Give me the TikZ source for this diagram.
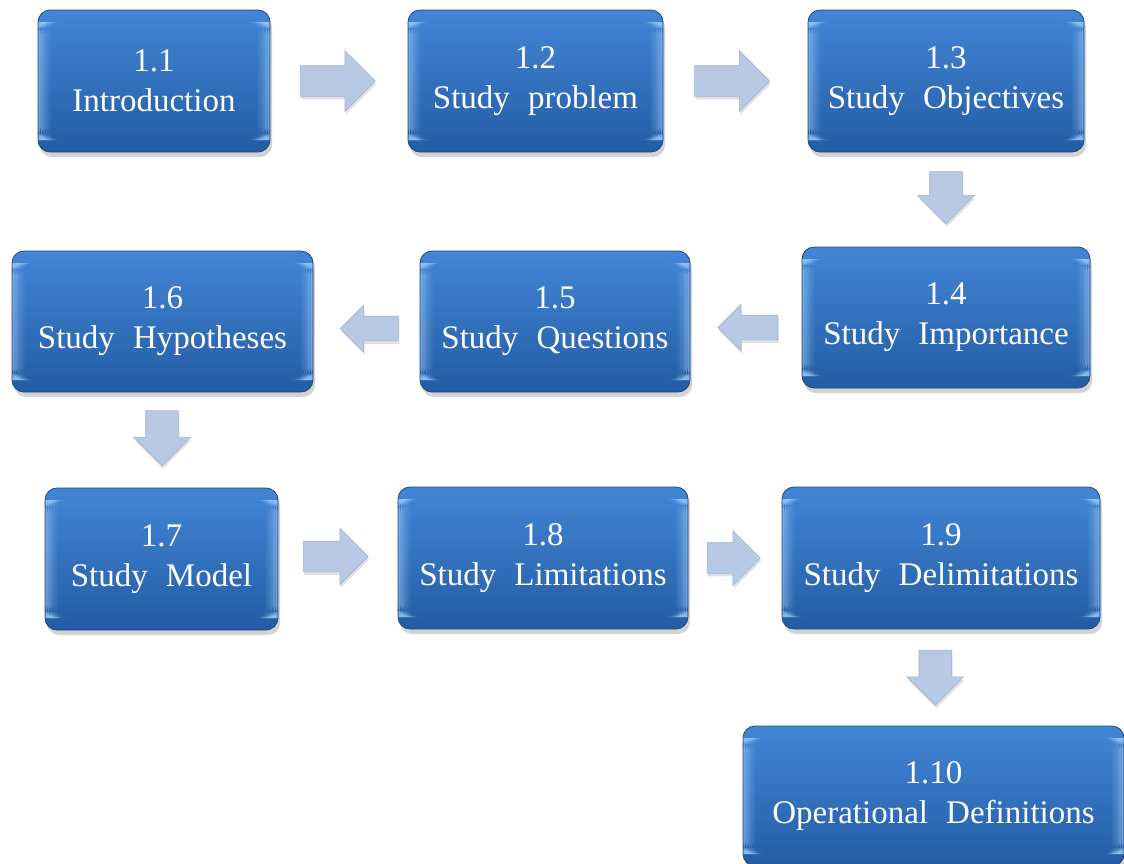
\documentclass[tikz,border=0pt]{standalone}
\usepackage{fontspec}
\setmainfont{Liberation Serif}[WordSpace=2.2]
\usetikzlibrary{shapes.arrows,shadows,calc}

\definecolor{boxtop}{RGB}{66,134,214}
\definecolor{boxbot}{RGB}{36,92,164}
\definecolor{boxline}{RGB}{32,72,128}
\definecolor{boxedge}{RGB}{160,205,250}
\definecolor{arrfill}{RGB}{184,201,229}
\definecolor{arrline}{RGB}{160,180,212}

\tikzset{
  box/.style={
    rounded corners=12pt, draw=boxline, line width=0.8pt,
    top color=boxtop, bottom color=boxbot,
    text=white, align=center, inner sep=0pt,
    font=\fontsize{33}{40}\selectfont,
    drop shadow={shadow xshift=2pt, shadow yshift=-5pt, opacity=0.35},
    path picture={
      % soft bevel highlights along the left and right edges
      \foreach \k/\o in {0/0.55,1/0.4,2/0.28,3/0.17,4/0.08}{
        \fill[boxedge, opacity=\o]
          ([xshift=\k*2.5pt,yshift=12pt]path picture bounding box.south west) rectangle
          ([xshift=\k*2.5pt+2.5pt,yshift=-12pt]path picture bounding box.north west);
        \fill[boxedge, opacity=\o]
          ([xshift=-\k*2.5pt,yshift=12pt]path picture bounding box.south east) rectangle
          ([xshift=-\k*2.5pt-2.5pt,yshift=-12pt]path picture bounding box.north east);
      }
    }},
  blockarrow/.style={
    single arrow, single arrow head extend=#1, single arrow tip angle=90,
    draw=arrline, line width=0.6pt, fill=arrfill, minimum width=1pt,
    drop shadow={shadow xshift=1pt, shadow yshift=-3pt, opacity=0.25}},
  toright/.style={blockarrow=#1, shape border rotate=0},
  toleft/.style={blockarrow=#1, shape border rotate=180},
  todown/.style={blockarrow=#1, shape border rotate=270}
}

\begin{document}
\begin{tikzpicture}[x=1pt,y=-1pt]
\useasboundingbox (0,0) rectangle (1124,863);

% boxes, row by row
\node[box, minimum width=232pt, minimum height=142pt] (b11) at (154,81)    {1.1\\Introduction};
\node[box, minimum width=255pt, minimum height=142pt] (b12) at (535.5,81)  {1.2\\Study problem};
\node[box, minimum width=276pt, minimum height=142pt] (b13) at (946,81)    {1.3\\Study Objectives};
\node[box, minimum width=288pt, minimum height=141pt] (b14) at (946,317.5) {1.4\\Study Importance};
\node[box, minimum width=270pt, minimum height=141pt] (b15) at (555,321.5) {1.5\\Study Questions};
\node[box, minimum width=301pt, minimum height=141pt] (b16) at (162.5,321.5) {1.6\\Study Hypotheses};
\node[box, minimum width=233pt, minimum height=142pt] (b17) at (161.5,559) {1.7\\Study Model};
\node[box, minimum width=290pt, minimum height=142pt] (b18) at (543,558)   {1.8\\Study Limitations};
\node[box, minimum width=318pt, minimum height=142pt] (b19) at (941,558)   {1.9\\Study Delimitations};
\node[box, minimum width=381pt, minimum height=140pt] (b110) at (933.5,796) {1.10\\Operational Definitions};

% block arrows between consecutive steps (inner sep = half shaft width)
\node[toright=15pt, inner sep=15pt, minimum height=75pt] (a1) at ($(b11.east)!0.5!(b12.west)+(-9,0)$) {};
\node[toright=15pt, inner sep=15pt, minimum height=75pt] (a2) at ($(b12.east)!0.5!(b13.west)+(-11,0)$) {};
\node[todown=12pt, inner sep=16pt, minimum height=52pt] (a3) at ($(b13.south)!0.5!(b14.north)+(0,-10)$) {};
\node[toleft=11pt, inner sep=12pt, minimum height=60pt] (a4) at ($(b14.west)!0.5!(b15.east)+(8,8)$) {};
\node[toleft=11pt, inner sep=12pt, minimum height=58pt] (a5) at ($(b15.west)!0.5!(b16.east)+(9,7)$) {};
\node[todown=12pt, inner sep=16pt, minimum height=55pt] (a6) at ($(b16.south)!0.5!(b17.north)+(0,-10)$) {};
\node[toright=13pt, inner sep=15pt, minimum height=65pt] (a7) at ($(b17.east)!0.5!(b18.west)+(-10,-2)$) {};
\node[toright=12pt, inner sep=15pt, minimum height=53pt] (a8) at ($(b18.east)!0.5!(b19.west)+(-9,0)$) {};
\node[todown=12pt, inner sep=16pt, minimum height=55pt] (a9) at ($(b19.south)!0.5!(b110.north)+(-2,-8)$) {};
\end{tikzpicture}
\end{document}
